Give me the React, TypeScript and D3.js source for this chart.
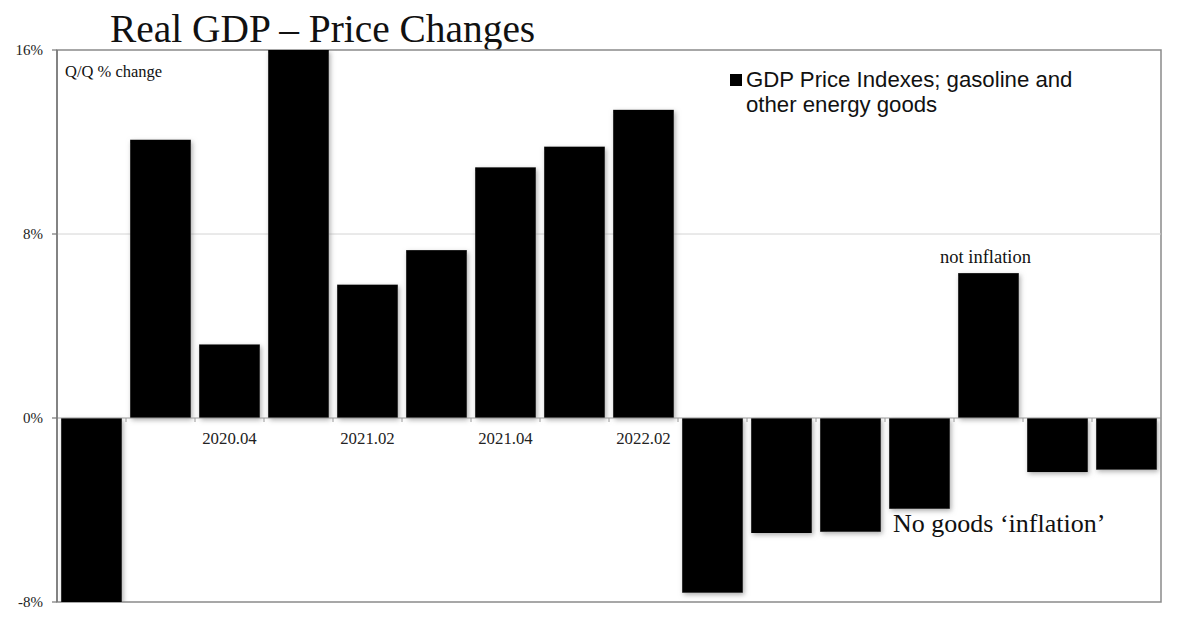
import React from "react";
import * as d3 from "d3";

const categories = [
  "2020.02", "2020.03", "2020.04", "2021.01", "2021.02", "2021.03", "2021.04", "2022.01",
  "2022.02", "2022.03", "2022.04", "2023.01", "2023.02", "2023.03", "2023.04", "2024.01",
];
const values = [-8, 12.1, 3.2, 16, 5.8, 7.3, 10.9, 11.8, 13.4, -7.6, -5.0, -4.95, -3.95, 6.3, -2.35, -2.25];
const shownLabels = ["2020.04", "2021.02", "2021.04", "2022.02"];
const yTicks = [-8, 0, 8, 16];

const W = 1178;
const H = 622;
const left = 57;
const right = 1161;
const top = 50;
const bottom = 602;

export default function App() {
  const x = d3.scaleBand<string>().domain(categories).range([left, right]).paddingInner(0.12).paddingOuter(0.06);
  const y = d3.scaleLinear().domain([-8, 16]).range([bottom, top]);
  const step = x.step();
  const serif = "'Liberation Serif', 'Times New Roman', serif";
  const sans = "'Liberation Sans', Arial, sans-serif";

  return (
    <svg width={W} height={H} style={{ position: "absolute", left: 0, top: 0, background: "#fff" }}>
      <defs>
        <filter id="glow" x="-20%" y="-20%" width="140%" height="140%">
          <feDropShadow dx="1.5" dy="2" stdDeviation="2.8" floodColor="#8a8a8a" floodOpacity="0.7" />
        </filter>
        <clipPath id="plotclip">
          <rect x={left} y={top} width={right - left} height={bottom - top} />
        </clipPath>
      </defs>
      <rect x={0} y={0} width={W} height={H} fill="#fff" />
      <text x={110} y={42} fontFamily={serif} fontSize={39.4} fill="#111">
        Real GDP – Price Changes
      </text>
      {/* frame */}
      <rect x={left} y={top} width={right - left} height={bottom - top} fill="#fff" stroke="#8a8a8a" strokeWidth={1.5} />
      {/* gridline at 8% */}
      <line x1={left} x2={right} y1={y(8)} y2={y(8)} stroke="#d4d4d4" strokeWidth={1} />
      {/* bars */}
      <g clipPath="url(#plotclip)">
        {values.map((v, i) => (
          <rect
            key={categories[i]}
            x={x(categories[i])}
            y={y(Math.max(0, v))}
            width={x.bandwidth()}
            height={Math.abs(y(v) - y(0))}
            fill="#000"
            filter="url(#glow)"
          />
        ))}
      </g>
      {/* zero line and category ticks */}
      <line x1={left} x2={right} y1={y(0)} y2={y(0)} stroke="#9a9a9a" strokeWidth={1} />
      {categories.map((c, i) =>
        i > 0 ? (
          <line key={"t" + c} x1={left + step * i} x2={left + step * i} y1={y(0)} y2={y(0) + 4} stroke="#9a9a9a" strokeWidth={1} />
        ) : null
      )}
      {/* y axis */}
      <line x1={left} x2={left} y1={top} y2={bottom} stroke="#777" strokeWidth={1.5} />
      {yTicks.map((t) => (
        <g key={"y" + t}>
          <line x1={left - 5} x2={left} y1={y(t)} y2={y(t)} stroke="#777" strokeWidth={1.2} />
          <text x={43} y={y(t) + 5} textAnchor="end" fontFamily={serif} fontSize={15} fill="#222">
            {t + "%"}
          </text>
        </g>
      ))}
      {/* x labels */}
      {shownLabels.map((c) => (
        <text key={"x" + c} x={(x(c) as number) + x.bandwidth() / 2} y={444} textAnchor="middle" fontFamily={serif} fontSize={16.8} fill="#222">
          {c}
        </text>
      ))}
      <text x={65} y={77} fontFamily={serif} fontSize={16.5} fill="#111">
        Q/Q % change
      </text>
      {/* legend */}
      <rect x={730} y={74} width={12} height={12} fill="#000" />
      <text x={746} y={87} fontFamily={sans} fontSize={22.2} fill="#111">
        GDP Price Indexes; gasoline and
      </text>
      <text x={746} y={112} fontFamily={sans} fontSize={22.2} fill="#111">
        other energy goods
      </text>
      {/* annotations */}
      <text x={(x(categories[13]) as number) + x.bandwidth() / 2 - 3} y={263} textAnchor="middle" fontFamily={serif} fontSize={18.5} fill="#111">
        not inflation
      </text>
      <text x={893} y={532} fontFamily={serif} fontSize={26} fill="#111">
        No goods ‘inflation’
      </text>
    </svg>
  );
}
